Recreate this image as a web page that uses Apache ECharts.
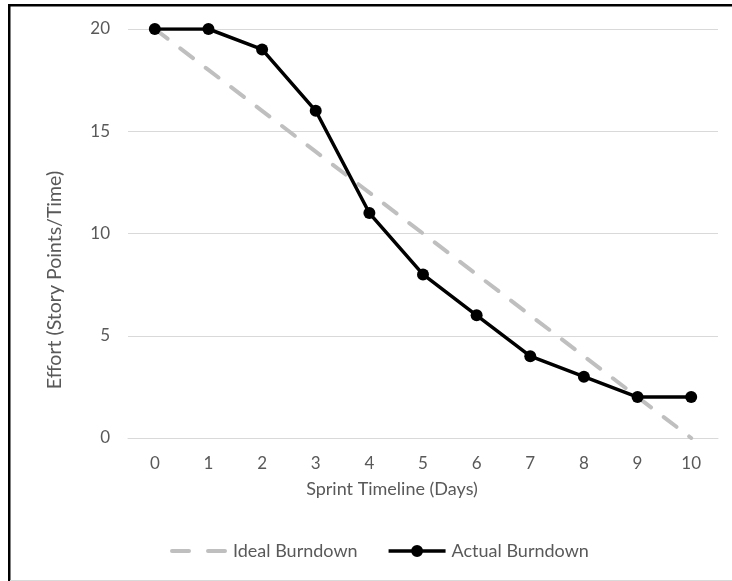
<!DOCTYPE html>
<html>
<head>
<meta charset="utf-8">
<script src="https://cdn.jsdelivr.net/npm/echarts@6/dist/echarts.min.js"></script>
<style>
html,body{margin:0;padding:0;background:#fff;}
#chart{width:732px;height:581px;}
</style>
</head>
<body>
<div id="chart"></div>
<script>
const days = ['0','1','2','3','4','5','6','7','8','9','10'];
const idealBurndown = [20,18,16,14,12,10,8,6,4,2,0];
const actualBurndown = [20,20,19,16,11,8,6,4,3,2,2];
const yTicks = {min:0, max:20, interval:5};
const xTitle = 'Sprint Timeline (Days)';
const yTitle = 'Effort (Story Points/Time)';

const FONT = 'Lato';
const GREY = '#595959';
const FS = 18;

const idealIcon = 'path://M2,5 H19 A2,2 0 0,1 19,9 H2 A2,2 0 0,1 2,5 Z M38,5 H55 A2,2 0 0,1 55,9 H38 A2,2 0 0,1 38,5 Z';
const actualIcon = 'path://M0,5.25 H23 V8.75 H0 Z M34,5.25 H57 V8.75 H34 Z M22.5,7 A6,6 0 1,1 34.5,7 A6,6 0 1,1 22.5,7 Z';

const chart = echarts.init(document.getElementById('chart'), null, {renderer:'canvas'});
chart.setOption({
  animation:false,
  backgroundColor:'#fff',
  grid:{left:128, right:14, top:29, bottom:143, containLabel:false},
  xAxis:{
    type:'category', data:days, boundaryGap:true,
    axisLine:{show:true, lineStyle:{color:'#D9D9D9', width:1}},
    axisTick:{show:false},
    axisLabel:{color:GREY, fontFamily:FONT, fontSize:FS-1, margin:17}
  },
  yAxis:{
    type:'value', min:yTicks.min, max:yTicks.max, interval:yTicks.interval,
    axisLine:{show:false}, axisTick:{show:false},
    splitLine:{lineStyle:{color:'#D9D9D9', width:1}},
    axisLabel:{color:GREY, fontFamily:FONT, fontSize:FS-1, margin:18}
  },
  legend:{
    left:165, top:537,
    itemWidth:57, itemHeight:14, itemGap:31, symbolKeepAspect:true,
    textStyle:{color:GREY, fontFamily:FONT, fontSize:FS, padding:[0,0,0,1]},
    data:[
      {name:'Ideal Burndown', icon:idealIcon, itemStyle:{color:'#BFBFBF'}},
      {name:'Actual Burndown', icon:actualIcon, itemStyle:{color:'#000'}}
    ]
  },
  graphic:[
    {type:'text', x:392, y:489, style:{text:xTitle, fill:GREY, font:FS+'px '+FONT, align:'center', verticalAlign:'middle'}},
    {type:'text', x:55, y:280, rotation:Math.PI/2, style:{text:yTitle, fill:GREY, font:'19.5px '+FONT, align:'center', verticalAlign:'middle'}},
    {type:'line', shape:{x1:9.25,y1:4,x2:9.25,y2:581}, style:{stroke:'#000', lineWidth:2.5}},
    {type:'line', shape:{x1:8,y1:5.25,x2:732,y2:5.25}, style:{stroke:'#000', lineWidth:2.5}},
    {type:'line', shape:{x1:10,y1:580.5,x2:732,y2:580.5}, style:{stroke:'#D9D9D9', lineWidth:1}}
  ],
  series:[
    {
      name:'Ideal Burndown', type:'line', data:idealBurndown,
      symbol:'none', z:2,
      lineStyle:{color:'#BFBFBF', width:4, type:[16,16], cap:'round'},
      itemStyle:{color:'#BFBFBF'}
    },
    {
      name:'Actual Burndown', type:'line', data:actualBurndown,
      symbol:'circle', symbolSize:12, z:3,
      lineStyle:{color:'#000', width:3.5},
      itemStyle:{color:'#000'}
    }
  ]
});
</script>
</body>
</html>
